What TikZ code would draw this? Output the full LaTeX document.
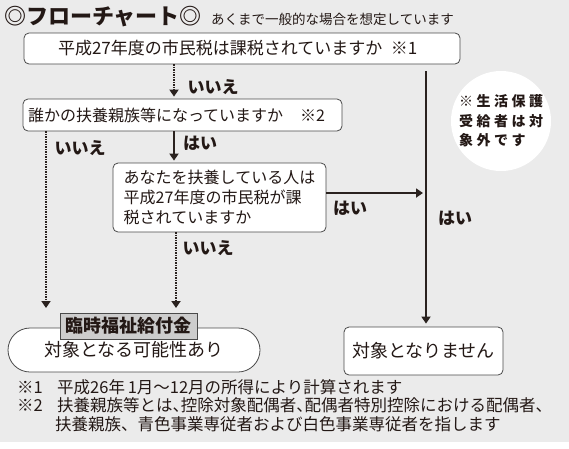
\documentclass[tikz,border=0pt]{standalone}
\usepackage{fontspec}
\setmainfont{Noto Sans CJK JP}
\newfontfamily\halffont[RawFeature=+halt]{Noto Sans CJK JP}
\usetikzlibrary{arrows.meta,calc}
\definecolor{bg}{HTML}{EBEBEB}
\definecolor{txt}{HTML}{231815}
\definecolor{ln}{HTML}{2A221F}
\definecolor{boxc}{HTML}{4A4A4A}
\definecolor{lblfill}{HTML}{CDCDCD}
\newcommand\myls{\hspace{3.5pt}}
\newcommand\hcomma{{\halffont 、}}
\tikzset{
  qbox/.style={draw=boxc, line width=0.8pt, rounded corners=5pt, fill=white, text=txt,
    inner sep=0pt, font=\fontsize{16}{20}\selectfont},
  ans/.style={text=txt, inner sep=0pt, font=\bfseries\fontsize{17}{20}\selectfont},
  yesarrow/.style={draw=ln, line width=2.4pt, -{Triangle[width=9pt,length=7pt]}},
  noarrow/.style={draw=ln, line width=2.2pt, dash pattern=on 1.3pt off 1.2pt,
    -{Triangle[width=9pt,length=7pt]}},
  note/.style={text=txt, inner sep=0pt, anchor=west, font=\fontsize{16.5}{19}\selectfont},
}
\begin{document}
\begin{tikzpicture}[x=1pt,y=-1pt]
\useasboundingbox (0,0) rectangle (569,448);
\fill[white] (0,0) rectangle (569,448);
\fill[bg] (0,0) rectangle (569,442);

% title
\node[anchor=west, text=txt, inner sep=0pt, font=\bfseries\fontsize{22}{24}\selectfont] (title) at (4,17) {◎フローチャート◎};
\node[anchor=west, text=txt, inner sep=0pt, font=\fontsize{13.5}{16}\selectfont] (subtitle) at (211,19) {あくまで一般的な場合を想定しています};

% circle note
\node[circle, fill=white, inner sep=0pt, minimum size=100pt, align=left, text=txt,
  font=\bfseries\fontsize{14}{19.5}\selectfont] (circ) at (501,121)
  {※\myls 生\myls 活\myls 保\myls 護\\受\myls 給\myls 者\myls は\myls 対\\象\myls 外\myls で\myls す};

% boxes
\node[qbox, minimum height=31pt, text width=368pt, inner xsep=34pt, align=left,
  font=\fontsize{17}{20}\selectfont] (box1) at (242,48.5)
  {平成27年度の市民税は課税されていますか\hspace{0.5em}※1};
\node[qbox, minimum height=32pt, text width=309pt, inner xsep=5pt, align=left] (box2) at (182.5,115)
  {誰かの扶養親族等になっていますか\hspace{17pt}※2};
\node[qbox, minimum width=213pt, minimum height=69pt, align=left] (box3) at (219.5,197.5)
  {あなたを扶養している人は\\平成27年度の市民税が課\\税されていますか};
\node[qbox, minimum width=252pt, minimum height=44pt, rounded corners=22pt,
  font=\fontsize{18}{20}\selectfont] (res1) at (134,350) {対象となる可能性あり};
\node[draw=boxc, line width=0.8pt, fill=lblfill, text=txt, inner sep=0pt,
  minimum width=137pt, minimum height=26pt, font=\bfseries\fontsize{18}{20}\selectfont] (lbl) at (128.5,326) {臨時福祉給付金};
\node[qbox, minimum width=159pt, minimum height=48pt, font=\fontsize{18}{20}\selectfont] (res2) at (423.5,351) {対象となりません};

% helper coordinates
\coordinate (cx) at (174,0);
\coordinate (cx2) at (176,0);
\coordinate (cl) at (46,0);
\coordinate (tipL) at (46,308);
\coordinate (tipM) at (176,308);
\coordinate (vtop) at (426,71);
\coordinate (hy) at (0,193);

% connectors
\draw[noarrow, shorten >=2pt] (box1.south -| cx) -- (box2.north -| cx);
\draw[yesarrow, shorten >=2pt] (box2.south -| cx) -- (box3.north -| cx);
\draw[noarrow] (box2.south -| cl) -- (tipL);
\draw[noarrow] (box3.south -| cx2) -- (tipM);
\draw[yesarrow, shorten >=3pt] (box3.east |- hy) -- (vtop |- hy);
\draw[yesarrow, shorten >=3pt] (vtop) -- (res2.north -| vtop);

% answer labels
\node[ans] (l1) at (213,87) {いいえ};
\node[ans] (l2) at (200,143) {はい};
\node[ans] (l3) at (80,148) {いいえ};
\node[ans] (l4) at (350,208) {はい};
\node[ans] (l5) at (208,248) {いいえ};
\node[ans] (l6) at (455,218) {はい};

% footnotes
\node[note] (n1m) at (17,387) {※1};
\node[note] (n1) at (57,387) {平成26年\,1月～12月の所得により計算されます};
\node[note] (n2m) at (17,405) {※2};
\node[note] (n2) at (57,405) {扶養親族等とは\hcomma 控除対象配偶者\hcomma 配偶者特別控除における配偶者\hcomma};
\node[note] (n3) at (55,424) {扶養親族、青色事業専従者および白色事業専従者を指します};
\end{tikzpicture}
\end{document}
